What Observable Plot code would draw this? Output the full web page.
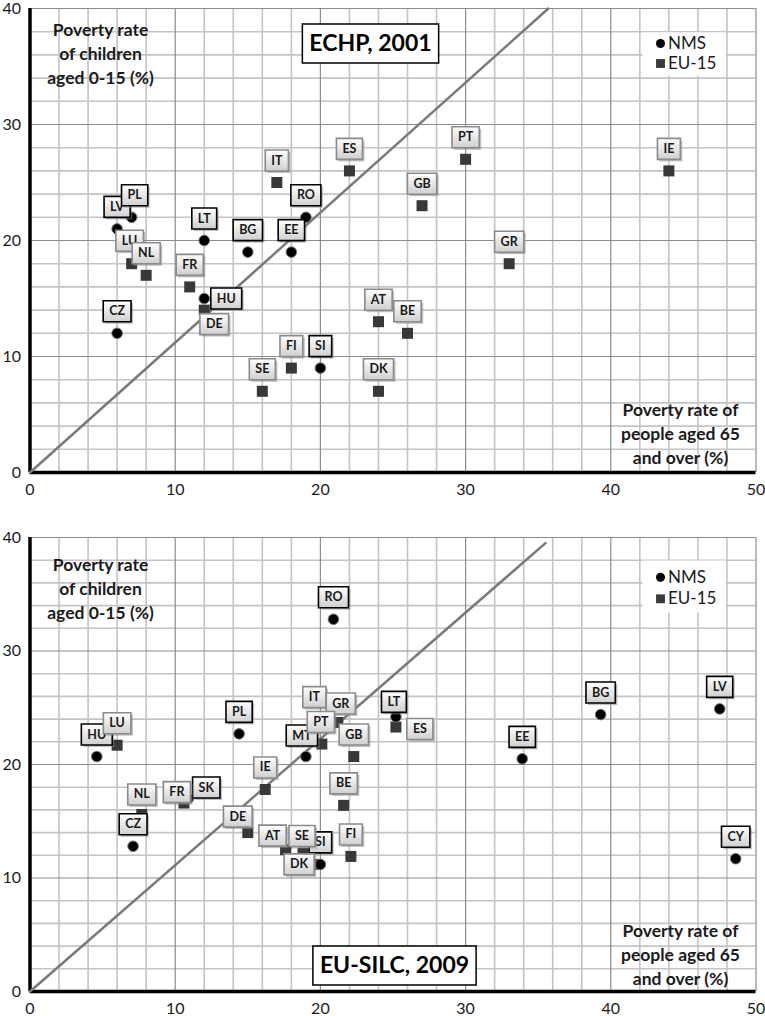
<!DOCTYPE html>
<html><head><meta charset="utf-8">
<script src="https://cdn.jsdelivr.net/npm/d3@7"></script>
<script src="https://cdn.jsdelivr.net/npm/@observablehq/plot@0.6"></script>
<style>
body{margin:0;background:#fff}
svg{display:block}
</style>
</head><body><div id="chart"></div>
<script>
// ---------- DATA ----------
// Panel 1: ECHP, 2001
const nms2001Codes    = ["LV","PL","LT","BG","EE","RO","HU","CZ","SI"];
const nms2001Elderly  = [6, 7, 12, 15, 18, 19, 12, 6, 20];
const nms2001Children = [21, 22, 20, 19, 19, 22, 15, 12, 9];
const eu2001Codes     = ["IT","ES","PT","GB","IE","GR","AT","BE","DK","SE","FI","DE","FR","LU","NL"];
const eu2001Elderly   = [17, 22, 30, 27, 44, 33, 24, 26, 24, 16, 18, 12, 11, 7, 8];
const eu2001Children  = [25, 26, 27, 23, 26, 18, 13, 12, 7, 7, 9, 14, 16, 18, 17];
const diag2001X = [0, 35.7];
const diag2001Y = [0, 40];

// Panel 2: EU-SILC, 2009
const nms2009Codes    = ["HU","PL","CZ","SK","MT","SI","LT","RO","EE","BG","LV","CY"];
const nms2009Elderly  = [4.6, 14.4, 7.1, 10.9, 19.0, 20.0, 25.2, 20.9, 33.9, 39.3, 47.5, 48.6];
const nms2009Children = [20.7, 22.7, 12.8, 17.0, 20.7, 11.2, 24.2, 32.8, 20.5, 24.4, 24.9, 11.7];
const eu2009Codes     = ["LU","NL","FR","DE","IE","AT","SE","DK","IT","GR","PT","GB","BE","FI","ES"];
const eu2009Elderly   = [6.0, 7.7, 10.6, 15.0, 16.2, 17.6, 18.8, 19.5, 20.0, 21.2, 20.1, 22.3, 21.6, 22.1, 25.2];
const eu2009Children  = [21.7, 15.6, 16.6, 14.0, 17.8, 12.5, 12.2, 11.2, 24.0, 23.7, 21.8, 20.7, 16.4, 11.9, 23.3];
const diag2009X = [0, 35.5];
const diag2009Y = [0, 39.5];

const groupNames = ["NMS", "EU-15"];
const xTicks = [0, 10, 20, 30, 40, 50];
const yTicks = [0, 10, 20, 30, 40];
const yTitle = "Poverty rate\nof children\naged 0-15 (%)";
const xTitle = "Poverty rate of\npeople aged 65\nand over (%)";

// ---------- LAYOUT (label nudges in px relative to the point) ----------
const nudge2001 = {HU:[22,0], DE:[10,14], PL:[3,-22], LU:[-2,-23]};
const nudge2009 = {NL:[0,-20], FR:[-7,-11], SK:[18,-11], DE:[-10,-16], AT:[-13,-14], SE:[-1,-17],
  DK:[-14,0], MT:[-4,-21], IT:[-6,-22], GR:[3,-19], PT:[-1,-22], LT:[-2,-15], ES:[24,2]};

const FONT = "Lato, Carlito, 'Open Sans', sans-serif";
const cnv = document.createElement("canvas").getContext("2d");
function textW(s, font) { cnv.font = font; return cnv.measureText(s).width; }
const boxSymbol = (w, h) => ({draw(ctx){ ctx.moveTo(-w/2,-h/2); ctx.lineTo(w/2,-h/2); ctx.lineTo(w/2,h/2); ctx.lineTo(-w/2,h/2); ctx.closePath(); }});

function rows(codes, xs, ys, group) {
  return codes.map((c, i) => ({code: c, x: xs[i], y: ys[i], group}));
}

function panel(cfg) {
  const nms = rows(cfg.nmsCodes, cfg.nmsX, cfg.nmsY, groupNames[0]);
  const eu = rows(cfg.euCodes, cfg.euX, cfg.euY, groupNames[1]);
  const diag = cfg.diagX.map((x, i) => ({x, y: cfg.diagY[i]}));
  const minorX = d3.range(0, 51, 2).filter(v => v % 10 !== 0);
  const minorY = d3.range(0, 41, 2).filter(v => v % 10 !== 0);
  const gid = "grad" + cfg.id;

  const labelMarks = [];
  for (const d of [...nms, ...eu]) {
    const [dx, dy] = cfg.nudge[d.code] || [0, -22];
    const w = textW(d.code, `bold 12.5px ${FONT}`) + 12;
    const sym = boxSymbol(w, 21);
    labelMarks.push(
      Plot.dot([d], {x: "x", y: "y", symbol: sym, dx: dx + 2, dy: dy + 2, fill: "#8c8c8c", fillOpacity: 0.55, stroke: "none"}),
      Plot.dot([d], {x: "x", y: "y", symbol: sym, dx, dy, fill: `url(#${gid})`,
        stroke: d.group === "NMS" ? "#000" : "#8a8a8a", strokeWidth: 1.6}),
      Plot.text([d], {x: "x", y: "y", text: "code", dx, dy, fontWeight: "bold", fontSize: 12.5, fill: "#1a1a1a"})
    );
  }

  const tW = textW(cfg.title, `bold 23px ${FONT}`) + 14;
  const lg = cfg.legend;

  const svg = Plot.plot({
    width: 765, height: cfg.height,
    marginLeft: 29.5, marginRight: 9.5, marginTop: cfg.marginTop, marginBottom: cfg.marginBottom,
    style: {fontFamily: FONT, fontSize: "15px", color: "#1a1a1a", background: "#fff"},
    x: {domain: [0, 50], label: null},
    y: {domain: [0, 40], label: null},
    marks: [
      Plot.ruleX(minorX, {stroke: "#c4c4c4", strokeWidth: 1.6}),
      Plot.ruleY(minorY, {stroke: "#c4c4c4", strokeWidth: 1.6}),
      Plot.ruleX([10, 20, 30, 40], {stroke: "#8c8c8c", strokeWidth: 1.2}),
      Plot.ruleY([10, 20, 30], {stroke: "#8c8c8c", strokeWidth: 1.2}),
      Plot.ruleX([50], {stroke: "#8c8c8c", strokeWidth: 1.2}),
      Plot.ruleY([40], {stroke: "#8c8c8c", strokeWidth: 1.2}),
      Plot.axisX({ticks: xTicks, tickSize: 0, tickPadding: 11, fontSize: 16, label: null}),
      Plot.axisY({ticks: yTicks, tickSize: 0, tickPadding: 9, fontSize: 16, label: null}),
      // axis titles
      Plot.text([yTitle], {frameAnchor: "top-left", dx: 70.5, dy: cfg.yTitleDy, text: d => d, lineAnchor: "top",
        fontWeight: "bold", fontSize: 17.5, lineHeight: 1.35, textAnchor: "middle"}),
      Plot.text([xTitle], {frameAnchor: "bottom-left", dx: 650.5, dy: cfg.xTitleDy, text: d => d, lineAnchor: "bottom",
        fontWeight: "bold", fontSize: 17.5, lineHeight: 1.35, textAnchor: "middle"}),
      // legend
      Plot.dot([0], {frameAnchor: "top-right", dx: -72, dy: lg.boxDy, symbol: boxSymbol(83, lg.boxH), fill: "#fff", stroke: "none"}),
      Plot.dot([0], {frameAnchor: "top-right", dx: -95.5, dy: lg.y1, symbol: "circle", r: 4.5, fill: "#000"}),
      Plot.dot([0], {frameAnchor: "top-right", dx: -95.5, dy: lg.y2, symbol: "square", r: 5, fill: "#3a3a3a"}),
      Plot.text([groupNames[0]], {frameAnchor: "top-right", dx: -88, dy: lg.y1, text: d => d, textAnchor: "start", lineAnchor: "middle", fontSize: 17}),
      Plot.text([groupNames[1]], {frameAnchor: "top-right", dx: -88, dy: lg.y2, text: d => d, textAnchor: "start", lineAnchor: "middle", fontSize: 17}),
      // axes lines
      Plot.ruleX([0], {stroke: "#000", strokeWidth: 3.5}),
      Plot.ruleY([0], {stroke: "#000", strokeWidth: 3.5}),
      // diagonal
      Plot.line(diag, {x: "x", y: "y", stroke: "#7a7a7a", strokeWidth: 2.5}),
      // points
      Plot.dot(eu, {x: "x", y: "y", symbol: "square", r: 6.2, fill: "#383838", stroke: "none"}),
      Plot.dot(nms, {x: "x", y: "y", symbol: "circle", r: 5.3, fill: "#000", stroke: "#777", strokeWidth: 1}),
      // labels
      ...labelMarks,
      // title box
      Plot.dot([0], {frameAnchor: cfg.titleAnchor, dx: cfg.titleDx, dy: cfg.titleDy, symbol: boxSymbol(tW, 39), fill: "#fff", stroke: "#000", strokeWidth: 1.5}),
      Plot.text([cfg.title], {frameAnchor: cfg.titleAnchor, dx: cfg.titleDx, dy: cfg.titleDy, text: d => d,
        textAnchor: "middle", lineAnchor: "middle", fontWeight: "bold", fontSize: 23, fill: "#000"})
    ]
  });
  // gradient for label boxes
  const defs = d3.select(svg).insert("defs", ":first-child");
  const g = defs.append("linearGradient").attr("id", gid).attr("x1", 0).attr("y1", 0).attr("x2", 0).attr("y2", 1);
  g.append("stop").attr("offset", "0%").attr("stop-color", "#ffffff");
  g.append("stop").attr("offset", "100%").attr("stop-color", "#cfcfcf");
  return svg;
}

const chart = document.getElementById("chart");
chart.appendChild(panel({
  id: 1, height: 505, marginTop: 8, marginBottom: 33,
  nmsCodes: nms2001Codes, nmsX: nms2001Elderly, nmsY: nms2001Children,
  euCodes: eu2001Codes, euX: eu2001Elderly, euY: eu2001Children,
  diagX: diag2001X, diagY: diag2001Y, nudge: nudge2001,
  title: "ECHP, 2001", titleAnchor: "top-left", titleDx: 340.5, titleDy: 35,
  yTitleDy: 11, xTitleDy: -9,
  legend: {boxDy: 45.5, boxH: 43, y1: 35, y2: 55}
}));
chart.appendChild(panel({
  id: 2, height: 511, marginTop: 32, marginBottom: 25,
  nmsCodes: nms2009Codes, nmsX: nms2009Elderly, nmsY: nms2009Children,
  euCodes: eu2009Codes, euX: eu2009Elderly, euY: eu2009Children,
  diagX: diag2009X, diagY: diag2009Y, nudge: nudge2009,
  title: "EU-SILC, 2009", titleAnchor: "bottom-left", titleDx: 364.5, titleDy: -26,
  yTitleDy: 17, xTitleDy: -7,
  legend: {boxDy: 49, boxH: 52, y1: 39.7, y2: 61.3}
}));
</script>
</body></html>
